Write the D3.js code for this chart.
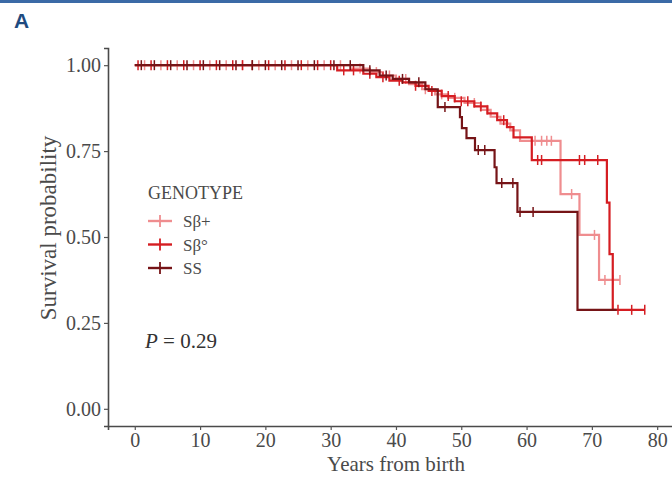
<!DOCTYPE html>
<html lang="en">
<head>
<meta charset="utf-8">
<script src="https://d3js.org/d3.v7.min.js"></script>
<style type="text/css">
  body { margin: 0; background: #fff; }
  text { font-family: "Liberation Serif", "DejaVu Serif", serif; }
</style>
</head>
<body>
<script type="text/javascript">

  // Kaplan-Meier steps (years, survival)
  var groups = ["S\u03B2+", "S\u03B2\u00B0", "SS"];

  var sbPlusTime = [0, 33, 36, 38, 40, 42, 44, 46, 48, 50.5, 53, 54.5, 56, 57.5, 59, 65.2, 68.1, 71.1, 74.3];
  var sbPlusSurv = [1, 0.99, 0.98, 0.97, 0.96, 0.945, 0.93, 0.915, 0.905, 0.89, 0.87, 0.85, 0.83, 0.81, 0.78, 0.625, 0.506, 0.375, 0.375];
  var sbPlusCensor = [1.5, 4, 6.5, 9, 11.5, 14, 16.5, 19, 21.5, 24, 26.5, 29, 31.5, 34.5, 37, 39, 41.5, 44.5, 47, 49, 52, 54, 61.3, 62.3, 63.1, 63.8, 66.9, 70.4, 72, 73.2, 74.3];

  var sbZeroTime = [0, 31, 35, 37, 39, 41, 43, 45, 47, 49, 52, 54, 55.5, 57, 58, 60.8, 72.3, 72.7, 73.2, 78.1];
  var sbZeroSurv = [1, 0.985, 0.975, 0.965, 0.955, 0.95, 0.94, 0.925, 0.91, 0.895, 0.88, 0.86, 0.84, 0.82, 0.79, 0.724, 0.6, 0.45, 0.288, 0.288];
  var sbZeroCensor = [0.5, 2.5, 5, 7.5, 10, 12.5, 15, 16.5, 18, 20.5, 23, 25.5, 28, 30, 32, 33.5, 36, 38, 40.5, 43, 45.5, 48, 50, 51, 53, 56.5, 61.7, 62.3, 68.1, 68.9, 70.9, 74, 76.1, 78.1];

  var ssTime = [0, 35, 37.5, 39.5, 42, 44.5, 46.4, 49.8, 50.1, 50.8, 52.1, 55.1, 55.4, 58.6, 67.8, 73.8];
  var ssSurv = [1, 0.985, 0.97, 0.96, 0.95, 0.93, 0.878, 0.849, 0.817, 0.788, 0.753, 0.703, 0.657, 0.573, 0.288, 0.288];
  var ssCensor = [1, 3, 5.5, 8, 10.5, 13, 15.5, 18, 20, 22.5, 25, 27.5, 30.5, 33, 36, 38.5, 41, 43.5, 47.5, 52.6, 53.6, 56.2, 57.9, 59, 61];

  var xTicks = [0, 10, 20, 30, 40, 50, 60, 70, 80];
  var yTicks = [0, 0.25, 0.5, 0.75, 1];

  var colors = ["#ef8d8f", "#d51d22", "#761417"];

  var width = 672, height = 477;

  var svg = d3.select("body").append("svg")
    .attr("width", width)
    .attr("height", height);

  // top rule and panel letter
  svg.append("rect").attr("x", 0).attr("y", 0).attr("width", width).attr("height", 3).style("fill", "#3b6aa6");
  svg.append("text").attr("x", 14).attr("y", 28)
    .style("font-family", "'Liberation Sans', Arial, sans-serif")
    .style("font-weight", "bold").style("font-size", "21px").style("fill", "#1f4b80")
    .text("A");

  var x = d3.scaleLinear().domain([-4.1, 86.1]).range([108, 697]);
  var y = d3.scaleLinear().domain([-0.05, 1.05]).range([426, 48]);

  var xAxis = svg.append("g")
    .attr("transform", "translate(0," + 426 + ")")
    .call(d3.axisBottom(x).tickValues(xTicks).tickSize(4).tickPadding(3).tickFormat(d3.format("d")));

  var yAxis = svg.append("g")
    .attr("transform", "translate(" + 108 + ",0)")
    .call(d3.axisLeft(y).tickValues(yTicks).tickSize(4).tickPadding(3).tickFormat(d3.format(".2f")));

  [xAxis, yAxis].forEach(function(g) {
    g.select(".domain").style("stroke", "#4a4a4a").style("stroke-width", 1.6);
    g.selectAll(".tick line").style("stroke", "#555").style("stroke-width", 1.2);
    g.selectAll(".tick text").style("font-family", "'Liberation Serif', serif")
      .style("font-size", "20px").style("fill", "#4a4a4a");
  });

  svg.append("text")
    .attr("transform", "translate(56,228) rotate(-90)")
    .attr("text-anchor", "middle")
    .style("font-size", "23px").style("fill", "#4a4a4a")
    .text("Survival probability");

  svg.append("text")
    .attr("x", 396).attr("y", 471)
    .attr("text-anchor", "middle")
    .style("font-size", "21px").style("fill", "#4a4a4a")
    .text("Years from birth");

  var series = [
    { name: groups[0], t: sbPlusTime, s: sbPlusSurv, c: sbPlusCensor, color: colors[0] },
    { name: groups[1], t: sbZeroTime, s: sbZeroSurv, c: sbZeroCensor, color: colors[1] },
    { name: groups[2], t: ssTime, s: ssSurv, c: ssCensor, color: colors[2] }
  ];

  var line = d3.line()
    .x(function(d) { return x(d[0]); })
    .y(function(d) { return y(d[1]); })
    .curve(d3.curveStepAfter);

  // survival value at time t for a step curve
  function survAt(sr, t) {
    var v = sr.s[0];
    for (var i = 0; i < sr.t.length; i++) {
      if (sr.t[i] <= t) v = sr.s[i];
    }
    return v;
  }

  series.forEach(function(sr) {
    var g = svg.append("g");
    g.append("path")
      .datum(d3.zip(sr.t, sr.s))
      .attr("d", line)
      .style("fill", "none")
      .style("stroke", sr.color)
      .style("stroke-width", 2.2);

    g.selectAll("line.cens")
      .data(sr.c)
      .enter()
      .append("line")
      .attr("x1", function(d) { return x(d); })
      .attr("x2", function(d) { return x(d); })
      .attr("y1", function(d) { return y(survAt(sr, d)) - 5; })
      .attr("y2", function(d) { return y(survAt(sr, d)) + 5; })
      .style("stroke", sr.color)
      .style("stroke-width", 1.5);
  });

  // legend
  svg.append("text").attr("x", 148).attr("y", 199)
    .style("font-size", "18px").style("fill", "#4a4a4a")
    .text("GENOTYPE");

  var legend = svg.selectAll("g.legend")
    .data(series)
    .enter()
    .append("g")
    .attr("class", "legend")
    .attr("transform", function(d, i) { return "translate(148," + (221 + i * 23.5) + ")"; });

  legend.append("line")
    .attr("x1", 0).attr("x2", 24).attr("y1", 0).attr("y2", 0)
    .style("stroke", function(d) { return d.color; }).style("stroke-width", 2.4);
  legend.append("line")
    .attr("x1", 12).attr("x2", 12).attr("y1", -6).attr("y2", 6)
    .style("stroke", function(d) { return d.color; }).style("stroke-width", 1.8);
  legend.append("text")
    .attr("x", 35).attr("y", 6)
    .style("font-size", "17px").style("fill", "#4a4a4a")
    .text(function(d) { return d.name; });

  // p-value
  var pText = svg.append("text").attr("x", 145).attr("y", 348)
    .style("font-size", "21px").style("fill", "#333");
  pText.append("tspan").style("font-style", "italic").text("P");
  pText.append("tspan").text(" = 0.29");

</script>
</body>
</html>
